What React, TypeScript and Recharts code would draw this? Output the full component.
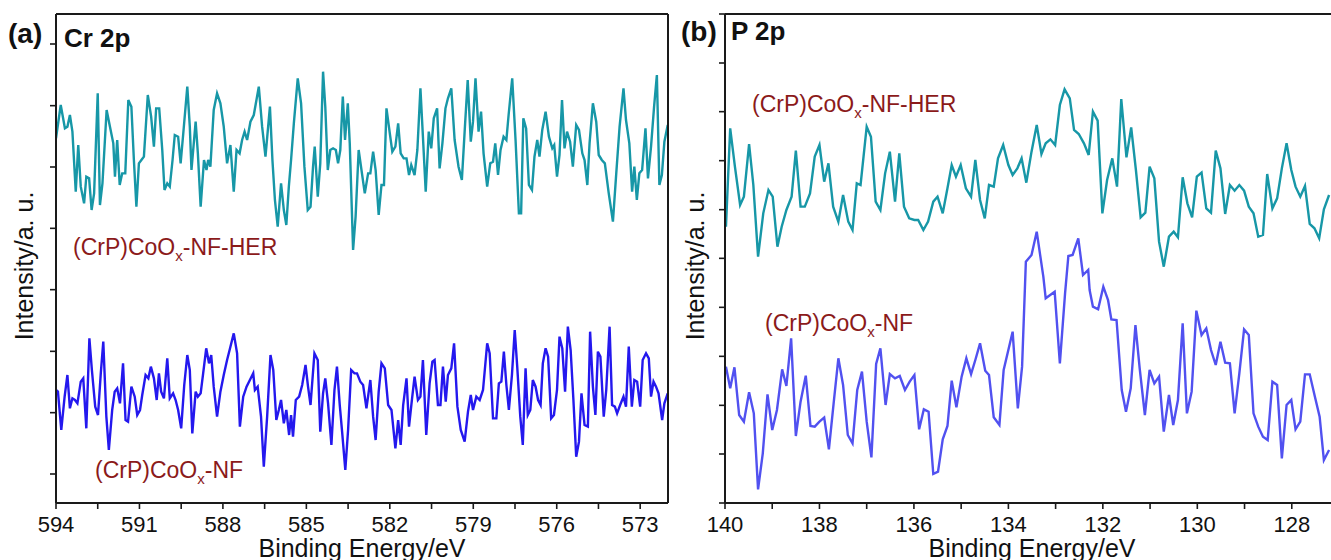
import React from 'react';
import { LineChart, Line, XAxis, YAxis } from 'recharts';

const FONT = '"Liberation Sans", Arial, sans-serif';
const TEAL = '#1797a7';
const BLUE_A = '#2418ee';
const BLUE_B = '#5151f0';
const DARKRED = '#8b1a1a';
const AXIS = '#1a1a1a';

// Panel (a) Cr 2p : [binding energy eV, intensity a.u.]
const crHer: [number, number][] = [
  [594.0,1094],[593.83,1194],[593.68,1124],[593.59,1129],[593.5,1164],[593.41,1114],[593.29,934],[593.2,1074],[593.11,949],[592.99,899],[592.91,979],[592.81,974],[592.72,879],[592.63,929],[592.5,1229],[592.42,894],[592.33,959],[592.18,1179],[592.06,1129],[591.94,1079],[591.88,979],[591.8,1089],[591.71,954],[591.62,989],[591.51,989],[591.4,1209],[591.29,1189],[591.2,1029],[591.11,889],[591.02,1019],[590.93,1029],[590.84,1039],[590.7,1224],[590.58,1159],[590.48,1069],[590.4,1184],[590.29,1184],[590.18,1059],[590.1,939],[590.0,959],[589.91,949],[589.81,1029],[589.73,1104],[589.61,1099],[589.52,1019],[589.43,1104],[589.28,1249],[589.19,1129],[589.13,999],[588.98,1144],[588.9,1049],[588.8,889],[588.68,1029],[588.59,999],[588.53,1029],[588.45,1009],[588.33,1179],[588.21,1229],[588.09,1199],[587.97,1129],[587.85,1019],[587.73,1074],[587.61,934],[587.51,1059],[587.4,1049],[587.31,1089],[587.22,1114],[587.13,1089],[587.01,1144],[586.89,1164],[586.71,1249],[586.59,1129],[586.47,1039],[586.31,1189],[586.22,1029],[586.13,909],[586.03,829],[585.91,959],[585.81,879],[585.72,834],[585.63,949],[585.55,1029],[585.45,1139],[585.31,1274],[585.19,1199],[585.07,1009],[584.95,879],[584.85,889],[584.76,1009],[584.7,1069],[584.59,919],[584.5,1019],[584.4,1294],[584.32,1189],[584.23,999],[584.14,1059],[584.04,1064],[583.94,1059],[583.86,1019],[583.78,1059],[583.69,1219],[583.61,1089],[583.51,1199],[583.44,1079],[583.32,759],[583.23,859],[583.12,1059],
  [582.9,929],[582.78,989],[582.7,989],[582.6,1054],[582.51,999],[582.4,864],[582.3,954],[582.21,954],[582.12,1184],[582.0,1109],[581.91,1054],[581.8,1069],[581.7,1139],[581.61,1049],[581.5,1034],[581.4,1034],[581.31,984],[581.23,1014],[581.11,984],[581.01,1059],[580.9,1244],[580.81,1099],[580.71,934],[580.6,1114],[580.51,1064],[580.42,1154],[580.3,1184],[580.21,1004],[580.11,1079],[580.0,1184],[579.91,1214],[579.79,1244],[579.67,1089],[579.53,1009],[579.41,969],[579.3,1129],[579.2,1269],[579.09,1084],[579.01,1144],[578.92,1274],[578.81,1114],[578.72,1174],[578.63,1049],[578.5,949],[578.39,1019],[578.29,1024],[578.21,1079],[578.11,984],[578.02,1059],[577.91,1099],[577.81,1089],[577.73,1164],[577.6,1274],[577.48,1089],[577.36,869],[577.28,869],[577.2,1154],[577.1,1124],[577.0,954],[576.89,939],[576.8,1039],[576.7,1089],[576.62,1039],[576.52,1119],[576.4,1174],[576.28,1099],[576.16,1064],[576.09,1074],[575.99,979],[575.9,1044],[575.81,1209],[575.72,1064],[575.63,1114],[575.52,1084],[575.42,1009],[575.3,1134],[575.2,1119],[575.08,1049],[575.0,1029],[574.9,954],[574.82,1079],[574.7,1199],[574.58,1144],[574.49,1044],[574.38,1029],[574.27,1019],[574.13,929],[573.98,844],[573.86,989],[573.74,1129],[573.6,1244],[573.51,1149],[573.39,1079],[573.29,934],[573.21,1009],[573.12,909],[573.03,989],[572.93,999],[572.81,1124],[572.72,974],[572.61,1069],[572.5,1189],[572.4,1284],[572.31,954],[572.22,984],[572.13,1084],[572.01,1134],
];

const crNf: [number, number][] = [
  [594.0,339],[593.93,334],[593.81,219],[593.69,319],[593.59,384],[593.5,284],[593.41,314],[593.32,309],[593.23,299],[593.11,364],[593.02,374],[592.91,224],[592.8,494],[592.71,399],[592.59,289],[592.49,264],[592.39,389],[592.3,484],[592.19,259],[592.1,159],[591.98,279],[591.89,334],[591.8,344],[591.7,299],[591.59,419],[591.5,249],[591.41,244],[591.29,349],[591.17,319],[591.08,264],[590.98,279],[590.9,324],[590.78,384],[590.68,374],[590.59,409],[590.48,374],[590.38,309],[590.3,389],[590.22,334],[590.12,314],[590.0,434],[589.91,314],[589.79,329],[589.7,309],[589.61,279],[589.5,224],[589.39,354],[589.28,444],[589.19,399],[589.1,209],[588.98,334],[588.9,319],[588.8,329],[588.71,389],[588.6,464],[588.5,419],[588.42,444],[588.33,349],[588.21,259],[588.09,334],[587.97,384],[587.85,429],[587.73,469],[587.61,509],[587.49,449],[587.39,229],[587.27,319],[587.15,349],[587.03,369],[586.91,389],[586.85,339],[586.75,349],[586.63,259],[586.53,109],[586.41,259],[586.29,444],[586.19,399],[586.08,249],[585.99,279],[585.91,309],[585.81,239],[585.72,279],[585.62,204],[585.55,264],[585.48,199],[585.38,309],[585.26,319],[585.15,354],[585.03,414],[584.94,349],[584.85,294],[584.71,449],[584.59,429],[584.5,214],[584.4,329],[584.32,374],[584.22,299],[584.1,174],[583.99,339],[583.9,409],[583.8,294],[583.71,209],[583.6,99],[583.5,219],[583.39,399],[583.27,389],[583.18,389],[583.06,364],
  [582.96,354],[582.84,284],[582.7,369],[582.6,259],[582.51,189],[582.4,334],[582.3,419],[582.18,404],[582.06,294],[581.94,279],[581.8,164],[581.7,249],[581.61,174],[581.52,294],[581.4,374],[581.31,229],[581.2,314],[581.11,379],[580.99,309],[580.9,319],[580.81,429],[580.69,204],[580.57,359],[580.47,424],[580.39,429],[580.27,294],[580.18,294],[580.09,409],[579.99,304],[579.91,384],[579.79,404],[579.69,479],[579.57,289],[579.45,219],[579.31,184],[579.19,274],[579.09,324],[579.01,279],[578.89,319],[578.77,309],[578.65,339],[578.5,479],[578.41,449],[578.29,254],[578.17,254],[578.08,359],[577.99,364],[577.9,454],[577.81,354],[577.72,279],[577.61,384],[577.51,519],[577.42,409],[577.31,259],[577.22,174],[577.12,404],[577.04,264],[576.95,279],[576.86,369],[576.76,349],[576.67,309],[576.58,294],[576.5,419],[576.4,464],[576.31,439],[576.2,254],[576.1,264],[575.99,339],[575.9,499],[575.8,464],[575.7,334],[575.6,529],[575.5,459],[575.4,309],[575.3,139],[575.2,184],[575.11,329],[575.0,234],[574.88,229],[574.8,514],[574.7,349],[574.61,264],[574.52,454],[574.43,439],[574.31,259],[574.22,339],[574.1,529],[574.01,294],[573.91,289],[573.83,269],[573.72,294],[573.6,319],[573.51,289],[573.41,469],[573.3,289],[573.21,369],[573.11,364],[573.0,289],[572.91,429],[572.79,449],[572.69,434],[572.61,319],[572.52,364],[572.43,349],[572.34,329],[572.21,249],[572.13,299],[572.01,329],
];

// Panel (b) P 2p : [binding energy eV, intensity a.u.]
const pHer: [number, number][] = [
  [139.98,829],[139.89,1124],[139.79,1009],[139.68,894],[139.6,919],[139.49,1077],[139.4,954],[139.3,739],[139.19,869],[139.08,939],[138.99,919],[138.89,769],[138.8,829],[138.7,879],[138.59,919],[138.5,1057],[138.4,889],[138.31,889],[138.2,929],[138.1,1039],[138.0,1074],[137.9,964],[137.81,1019],[137.71,889],[137.6,844],[137.5,924],[137.39,844],[137.3,819],[137.21,959],[137.13,954],[137.0,1129],[136.91,1099],[136.81,904],[136.71,879],[136.61,989],[136.51,1054],[136.4,904],[136.31,1049],[136.21,889],[136.1,854],[135.99,849],[135.91,849],[135.8,819],[135.7,844],[135.59,904],[135.5,919],[135.39,869],[135.29,944],[135.2,1014],[135.11,979],[135.01,1014],[134.9,944],[134.79,919],[134.7,1029],[134.6,909],[134.5,854],[134.41,954],[134.31,949],[134.22,1034],[134.11,1074],[134.0,1014],[133.91,984],[133.81,1004],[133.72,1034],[133.62,961],[133.51,1054],[133.4,1134],[133.3,1047],[133.21,1079],[133.11,1091],[133.01,1074],[132.91,1194],[132.81,1241],[132.7,1214],[132.61,1119],[132.51,1107],[132.4,1079],[132.3,1044],[132.21,1174],[132.11,1147],[132.01,869],[131.91,969],[131.8,1034],[131.7,949],[131.61,1212],[131.5,1037],[131.4,1127],[131.3,999],[131.2,857],[131.1,871],[131.01,1009],[130.91,974],[130.81,784],[130.71,709],[130.6,799],[130.5,814],[130.41,797],[130.31,977],[130.21,899],[130.11,857],[130.01,979],[129.91,991],[129.81,884],[129.71,871],[129.61,1057],[129.51,1004],[129.41,867],[129.31,954],[129.21,937],[129.11,954],[129.01,937],[128.91,889],[128.81,869],[128.71,799],[128.61,804],[128.52,987],[128.41,884],[128.31,914],[128.21,1004],[128.11,1079],[128.01,999],[127.92,949],[127.82,919],[127.72,951],[127.62,837],[127.52,824],[127.42,794],[127.32,881],[127.21,924],
];

const pNf: [number, number][] = [
  [139.98,409],[139.89,344],[139.8,407],[139.7,264],[139.6,244],[139.49,332],[139.39,269],[139.3,41],[139.2,149],[139.1,326],[139.0,219],[138.9,279],[138.79,401],[138.7,351],[138.6,494],[138.5,201],[138.4,304],[138.29,382],[138.19,231],[138.1,229],[138.0,244],[137.9,256],[137.8,161],[137.7,299],[137.6,434],[137.5,354],[137.4,204],[137.3,179],[137.2,339],[137.1,394],[137.0,244],[136.9,137],[136.8,417],[136.71,464],[136.6,294],[136.51,387],[136.4,374],[136.3,381],[136.19,339],[136.09,364],[135.99,384],[135.89,221],[135.79,281],[135.69,274],[135.59,87],[135.49,94],[135.39,191],[135.29,231],[135.2,367],[135.1,287],[134.99,379],[134.89,434],[134.79,387],[134.7,429],[134.6,479],[134.49,397],[134.41,384],[134.31,257],[134.19,234],[134.1,399],[133.91,514],[133.8,284],[133.71,409],[133.63,724],[133.51,744],[133.4,814],[133.26,679],[133.21,614],[133.02,634],[132.91,419],[132.8,629],[132.73,741],[132.64,744],[132.52,794],[132.42,684],[132.31,699],[132.28,639],[132.21,589],[132.1,581],[131.99,649],[131.89,609],[131.82,551],[131.71,549],[131.6,339],[131.51,274],[131.41,344],[131.31,534],[131.22,404],[131.11,264],[131.01,399],[130.91,359],[130.81,379],[130.71,214],[130.6,324],[130.51,234],[130.41,309],[130.31,539],[130.22,269],[130.12,334],[130.02,577],[129.91,504],[129.81,524],[129.71,459],[129.61,414],[129.51,484],[129.41,421],[129.31,419],[129.21,269],[129.11,389],[129.01,521],[128.91,504],[128.81,269],[128.71,229],[128.61,199],[128.51,189],[128.41,364],[128.31,354],[128.21,134],[128.11,294],[128.01,309],[127.92,221],[127.82,244],[127.72,386],[127.62,386],[127.51,319],[127.41,259],[127.32,129],[127.21,159],
];

const crTicksX = [594, 592.5, 591, 589.5, 588, 586.5, 585, 583.5, 582, 580.5, 579, 577.5, 576, 574.5, 573];
const pTicksX = [140, 139, 138, 137, 136, 135, 134, 133, 132, 131, 130, 129, 128, 127];
const crTicksY = [87, 271, 455, 640, 824, 1008, 1192, 1377];
const pTicksY = [0, 147, 293, 440, 587, 734, 880, 1027, 1174, 1320, 1467];
const crDomainX: [number, number] = [572, 594];
const pDomainX: [number, number] = [127, 140];
const yDomain: [number, number] = [0, 1467];

const toRows = (pairs: [number, number][]) => pairs.map(([e, v]) => ({ e, v }));

const axisLine = { stroke: AXIS, strokeWidth: 2 };
const tickLine = { stroke: AXIS, strokeWidth: 1.6 };
const tickStyle = { fontSize: 22, fill: '#111', fontFamily: FONT };

function Panel(props: {
  domainX: [number, number];
  ticksX: number[];
  ticksY: number[];
  labelEvery: (v: number) => boolean;
  her: [number, number][];
  nf: [number, number][];
  nfColor: string;
  width: number;
  right: number;
}) {
  const { domainX, ticksX, ticksY, labelEvery, her, nf, nfColor, width, right } = props;
  // every axis is 1px thick; margins are reduced by 1 so the plot box is 56..(width-right) x 14..503
  return (
    <LineChart width={width} height={600} margin={{ top: 13, right: right - 1, bottom: 96, left: 55 }}>
      <XAxis
        xAxisId="b"
        type="number"
        dataKey="e"
        domain={domainX}
        reversed
        allowDataOverflow
        ticks={ticksX}
        interval={0}
        height={1}
        tickSize={6}
        tickMargin={7}
        tickFormatter={(v: number) => (labelEvery(v) ? String(v) : '')}
        axisLine={axisLine}
        tickLine={tickLine}
        tick={tickStyle}
      />
      <XAxis
        xAxisId="t"
        orientation="top"
        type="number"
        dataKey="e"
        domain={domainX}
        reversed
        allowDataOverflow
        ticks={domainX}
        height={1}
        tickFormatter={() => ''}
        tickLine={false}
        axisLine={axisLine}
      />
      <YAxis
        yAxisId="l"
        type="number"
        domain={yDomain}
        allowDataOverflow
        ticks={ticksY}
        interval={0}
        width={1}
        tickSize={6}
        tickFormatter={() => ''}
        axisLine={axisLine}
        tickLine={tickLine}
      />
      <YAxis
        yAxisId="r"
        orientation="right"
        type="number"
        domain={yDomain}
        ticks={yDomain}
        width={1}
        tickFormatter={() => ''}
        tickLine={false}
        axisLine={axisLine}
      />
      <Line
        xAxisId="b"
        yAxisId="l"
        data={toRows(her)}
        dataKey="v"
        type="linear"
        stroke={TEAL}
        strokeWidth={2.4}
        dot={false}
        isAnimationActive={false}
      />
      <Line
        xAxisId="b"
        yAxisId="l"
        data={toRows(nf)}
        dataKey="v"
        type="linear"
        stroke={nfColor}
        strokeWidth={2.4}
        dot={false}
        isAnimationActive={false}
      />
    </LineChart>
  );
}

function Sample(props: { x: number; y: number; tail: string }) {
  return (
    <text x={props.x} y={props.y} fontSize={23} fill={DARKRED}>
      (CrP)CoO
      <tspan fontSize={15} dy={6}>x</tspan>
      <tspan dy={-6}>{props.tail}</tspan>
    </text>
  );
}

export default function App() {
  return (
    <div
      style={{
        position: 'fixed',
        left: 0,
        top: 0,
        width: 1331,
        height: 560,
        overflow: 'hidden',
        background: '#fff',
        fontFamily: FONT,
      }}
    >
      <div style={{ position: 'absolute', left: 0, top: 0 }}>
        <Panel
          domainX={crDomainX}
          ticksX={crTicksX}
          ticksY={crTicksY}
          labelEvery={(v) => v % 3 === 0}
          her={crHer}
          nf={crNf}
          nfColor={BLUE_A}
          width={700}
          right={32}
        />
      </div>
      <div style={{ position: 'absolute', left: 669, top: 0 }}>
        <Panel
          domainX={pDomainX}
          ticksX={pTicksX}
          ticksY={pTicksY}
          labelEvery={(v) => v % 2 === 0}
          her={pHer}
          nf={pNf}
          nfColor={BLUE_B}
          width={680}
          right={10}
        />
      </div>
      <svg
        width={1331}
        height={560}
        style={{ position: 'absolute', left: 0, top: 0, pointerEvents: 'none' }}
        fontFamily={FONT}
      >
        <text x={8} y={43} fontSize={28} fontWeight="bold" fill="#111">(a)</text>
        <text x={64} y={47} fontSize={26} fontWeight="bold" fill="#111">Cr 2p</text>
        <text x={681} y={41} fontSize={28} fontWeight="bold" fill="#111">(b)</text>
        <text x={731} y={40} fontSize={26} fontWeight="bold" fill="#111">P 2p</text>

        <Sample x={73} y={255} tail="-NF-HER" />
        <Sample x={95} y={478} tail="-NF" />
        <Sample x={752} y={112} tail="-NF-HER" />
        <Sample x={765} y={331} tail="-NF" />

        <text x={362} y={557} fontSize={25} textAnchor="middle" fill="#111">Binding Energy/eV</text>
        <text x={1032} y={557} fontSize={25} textAnchor="middle" fill="#111">Binding Energy/eV</text>
        <text transform="translate(33,266) rotate(-90)" fontSize={25} textAnchor="middle" fill="#111">
          Intensity/a. u.
        </text>
        <text transform="translate(704,266) rotate(-90)" fontSize={25} textAnchor="middle" fill="#111">
          Intensity/a. u.
        </text>
      </svg>
    </div>
  );
}
